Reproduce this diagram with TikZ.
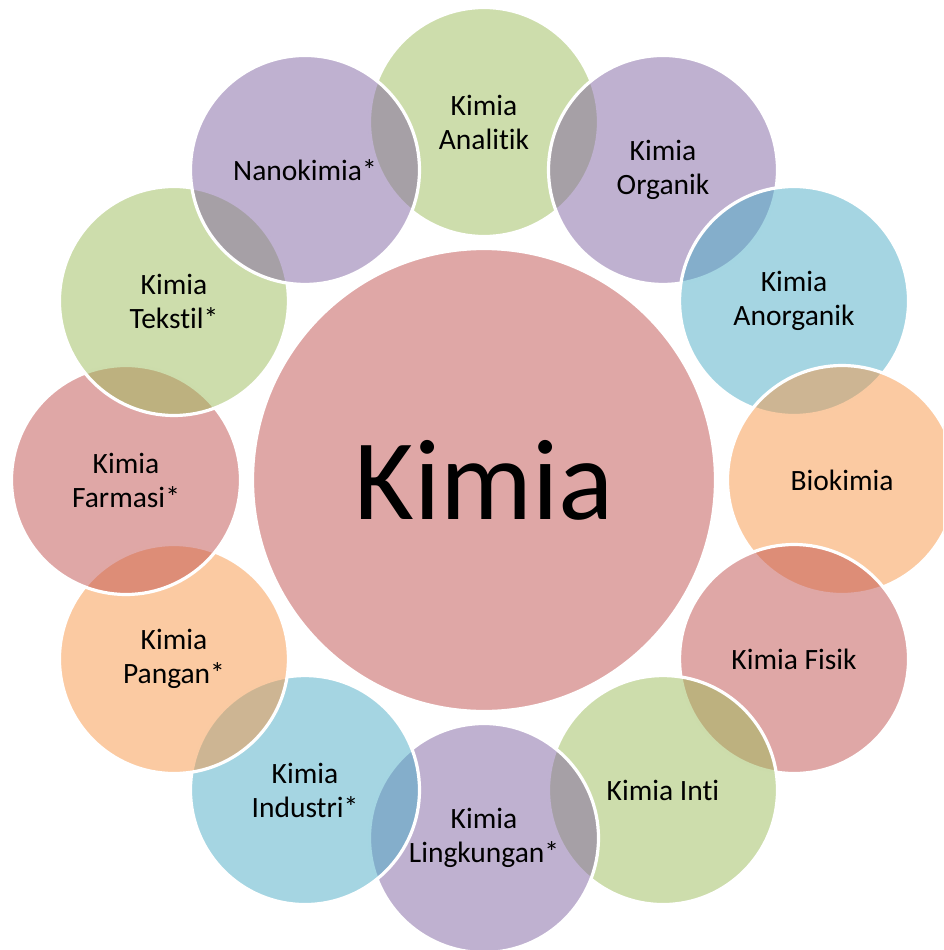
\documentclass[tikz,border=0pt]{standalone}
\usepackage{fontspec}
\setmainfont{Carlito}[Ligatures=NoCommon]
\definecolor{cgreen}{HTML}{9BBB59}
\definecolor{cpurple}{HTML}{8064A2}
\definecolor{cblue}{HTML}{4BACC6}
\definecolor{corange}{HTML}{F79646}
\definecolor{cred}{HTML}{C0504D}
\tikzset{
  bub/.style={circle, minimum size=229pt, inner sep=0pt, draw=white, line width=3.2pt,
    fill opacity=0.5, text opacity=1, align=center, font=\fontsize{29.5}{34}\selectfont},
  hub/.style={circle, minimum size=463pt, inner sep=0pt, draw=white, line width=3.2pt,
    fill opacity=0.5, text opacity=1, font=\fontsize{115}{130}\selectfont}
}
\begin{document}
\begin{tikzpicture}[x=1pt,y=-1pt]
\useasboundingbox (0,0) rectangle (943,950);
\clip (0,0) rectangle (943,950);
\node[hub, fill=cred] (c) at (484,480) {Kimia};
\node[bub, fill=cgreen]  (n1)  at ({484+358*sin(0)},{480-358*cos(0)}) {Kimia\\Analitik};
\node[bub, fill=cpurple] (n2)  at ({484+358*sin(30)},{480-358*cos(30)}) {Kimia\\Organik};
\node[bub, fill=cblue]   (n3)  at ({484+358*sin(60)},{480-358*cos(60)}) {Kimia\\Anorganik};
\node[bub, fill=corange] (n4)  at ({484+358*sin(90)},{480-358*cos(90)}) {Biokimia};
\node[bub, fill=cred]    (n5)  at ({484+358*sin(120)},{480-358*cos(120)}) {Kimia Fisik};
\node[bub, fill=cgreen]  (n6)  at ({484+358*sin(150)},{480-358*cos(150)}) {Kimia Inti};
\node[bub, fill=cpurple] (n7)  at ({484+358*sin(180)},{480-358*cos(180)}) {Kimia\\Lingkungan*};
\node[bub, fill=cblue]   (n8)  at ({484+358*sin(210)},{480-358*cos(210)}) {Kimia\\Industri*};
\node[bub, fill=corange] (n9)  at ({484+358*sin(240)},{480-358*cos(240)}) {Kimia\\Pangan*};
\node[bub, fill=cred]    (n10) at ({484+358*sin(270)},{480-358*cos(270)}) {Kimia\\Farmasi*};
\node[bub, fill=cgreen]  (n11) at ({484+358*sin(300)},{480-358*cos(300)}) {Kimia\\Tekstil*};
\node[bub, fill=cpurple] (n12) at ({484+358*sin(330)},{480-358*cos(330)}) {Nanokimia*};
\end{tikzpicture}
\end{document}
